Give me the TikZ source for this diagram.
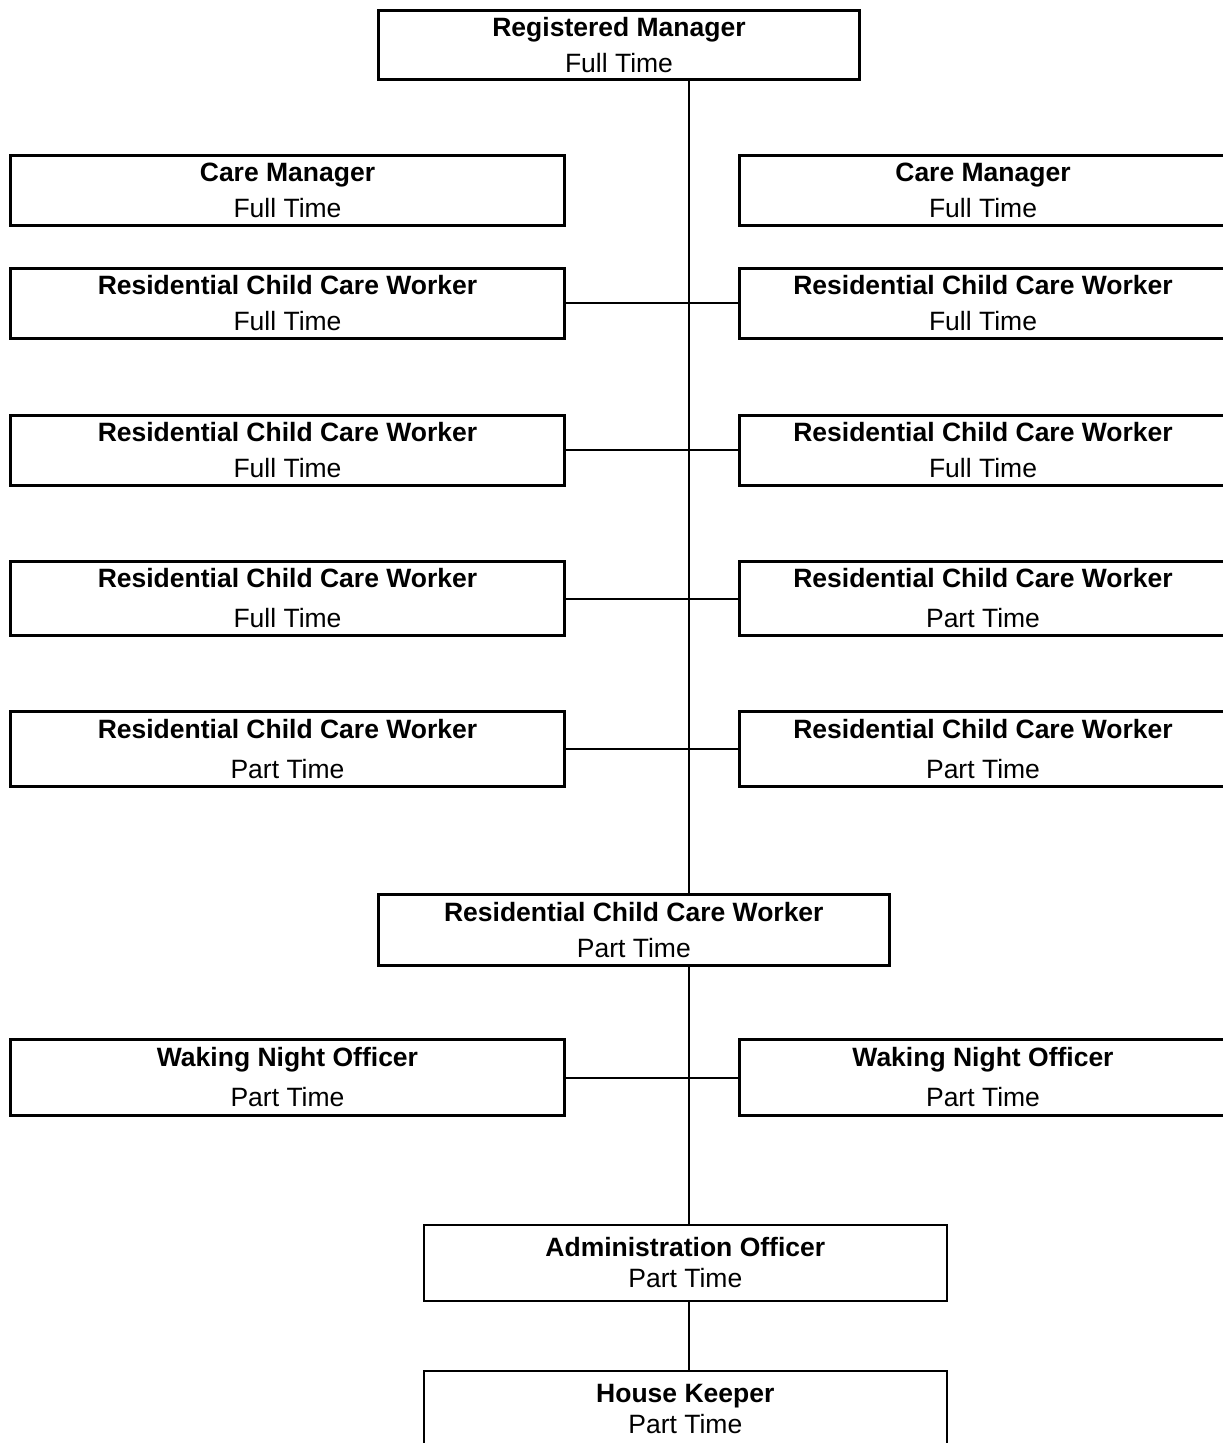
\documentclass[tikz,border=0pt]{standalone}
\usepackage{fontspec}
\setmainfont{Liberation Sans}
\usepackage{tikz}
\usetikzlibrary{positioning}

\begin{document}
\begin{tikzpicture}[x=1pt, y=-1pt]
            \tikzstyle{staff} = [rectangle, draw, line width=3pt, minimum width=554pt, minimum height=70pt, align=center, inner sep=0pt, execute at begin node={\rule{0pt}{25pt}}, font=\fontsize{26.5}{36}\selectfont]
            \tikzstyle{rightstaff} = [staff, minimum width=487pt]
            \tikzstyle{office} = [staff, line width=2pt, minimum width=523pt, minimum height=76pt]
            \tikzstyle{link} = [line width=2pt]

            \useasboundingbox (0,0) rectangle (1223,1443);
            \clip (0,0) rectangle (1223,1443);

            % Manager
            \node [staff, minimum width=481pt, minimum height=69pt] (rm) at (619,45) {\textbf{Registered Manager}\\Full Time};
            \coordinate (spine) at (689,0);

            % Left column
            \node [staff] (cml) at (287.5,190.5) {\textbf{Care Manager}\\Full Time};
            \node [staff] (l1) at (287.5,303) {\textbf{Residential Child Care Worker}\\Full Time};
            \node [staff] (l2) at (287.5,450) {\textbf{Residential Child Care Worker}\\Full Time};
            \node [staff, minimum height=74pt] (l3) at (287.5,598.5) {\textbf{Residential Child Care Worker}\\[4pt]Full Time};
            \node [staff, minimum height=75pt] (l4) at (287.5,749) {\textbf{Residential Child Care Worker}\\[4pt]Part Time};

            % Right column
            \node [rightstaff, right=172pt of cml] (cmr) {\textbf{Care Manager}\\Full Time};
            \node [rightstaff, right=172pt of l1] (r1) {\textbf{Residential Child Care Worker}\\Full Time};
            \node [rightstaff, right=172pt of l2] (r2) {\textbf{Residential Child Care Worker}\\Full Time};
            \node [rightstaff, minimum height=74pt, right=172pt of l3] (r3) {\textbf{Residential Child Care Worker}\\[4pt]Part Time};
            \node [rightstaff, minimum height=75pt, right=172pt of l4] (r4) {\textbf{Residential Child Care Worker}\\[4pt]Part Time};

            % Night staff
            \node [staff, minimum width=511pt, minimum height=71pt] (mid) at (633.8,930) {\textbf{Residential Child Care Worker}\\Part Time};
            \node [staff, minimum height=76pt] (wl) at (287.5,1077.5) {\textbf{Waking Night Officer}\\[4pt]Part Time};
            \node [rightstaff, minimum height=76pt, right=172pt of wl] (wr) {\textbf{Waking Night Officer}\\[4pt]Part Time};

            % Support
            \node [office] (admin) at (685.3,1263) {\textbf{Administration Officer}\\[-5pt]Part Time};
            \node [office, below=68pt of admin] (hk) {\textbf{House Keeper}\\[-5pt]Part Time};

            % Lines
            \draw [link] (rm.south -| spine) -- (mid.north -| spine);
            \draw [link] (l1.east) -- (r1.west);
            \draw [link] (l2.east) -- (r2.west);
            \draw [link] (l3.east) -- (r3.west);
            \draw [link] (l4.east) -- (r4.west);
            \draw [link] (wl.east) -- (wr.west);
            \draw [link] (mid.south -| spine) -- (admin.north -| spine);
            \draw [link] (admin.south -| spine) -- (hk.north -| spine);
\end{tikzpicture}
\end{document}
